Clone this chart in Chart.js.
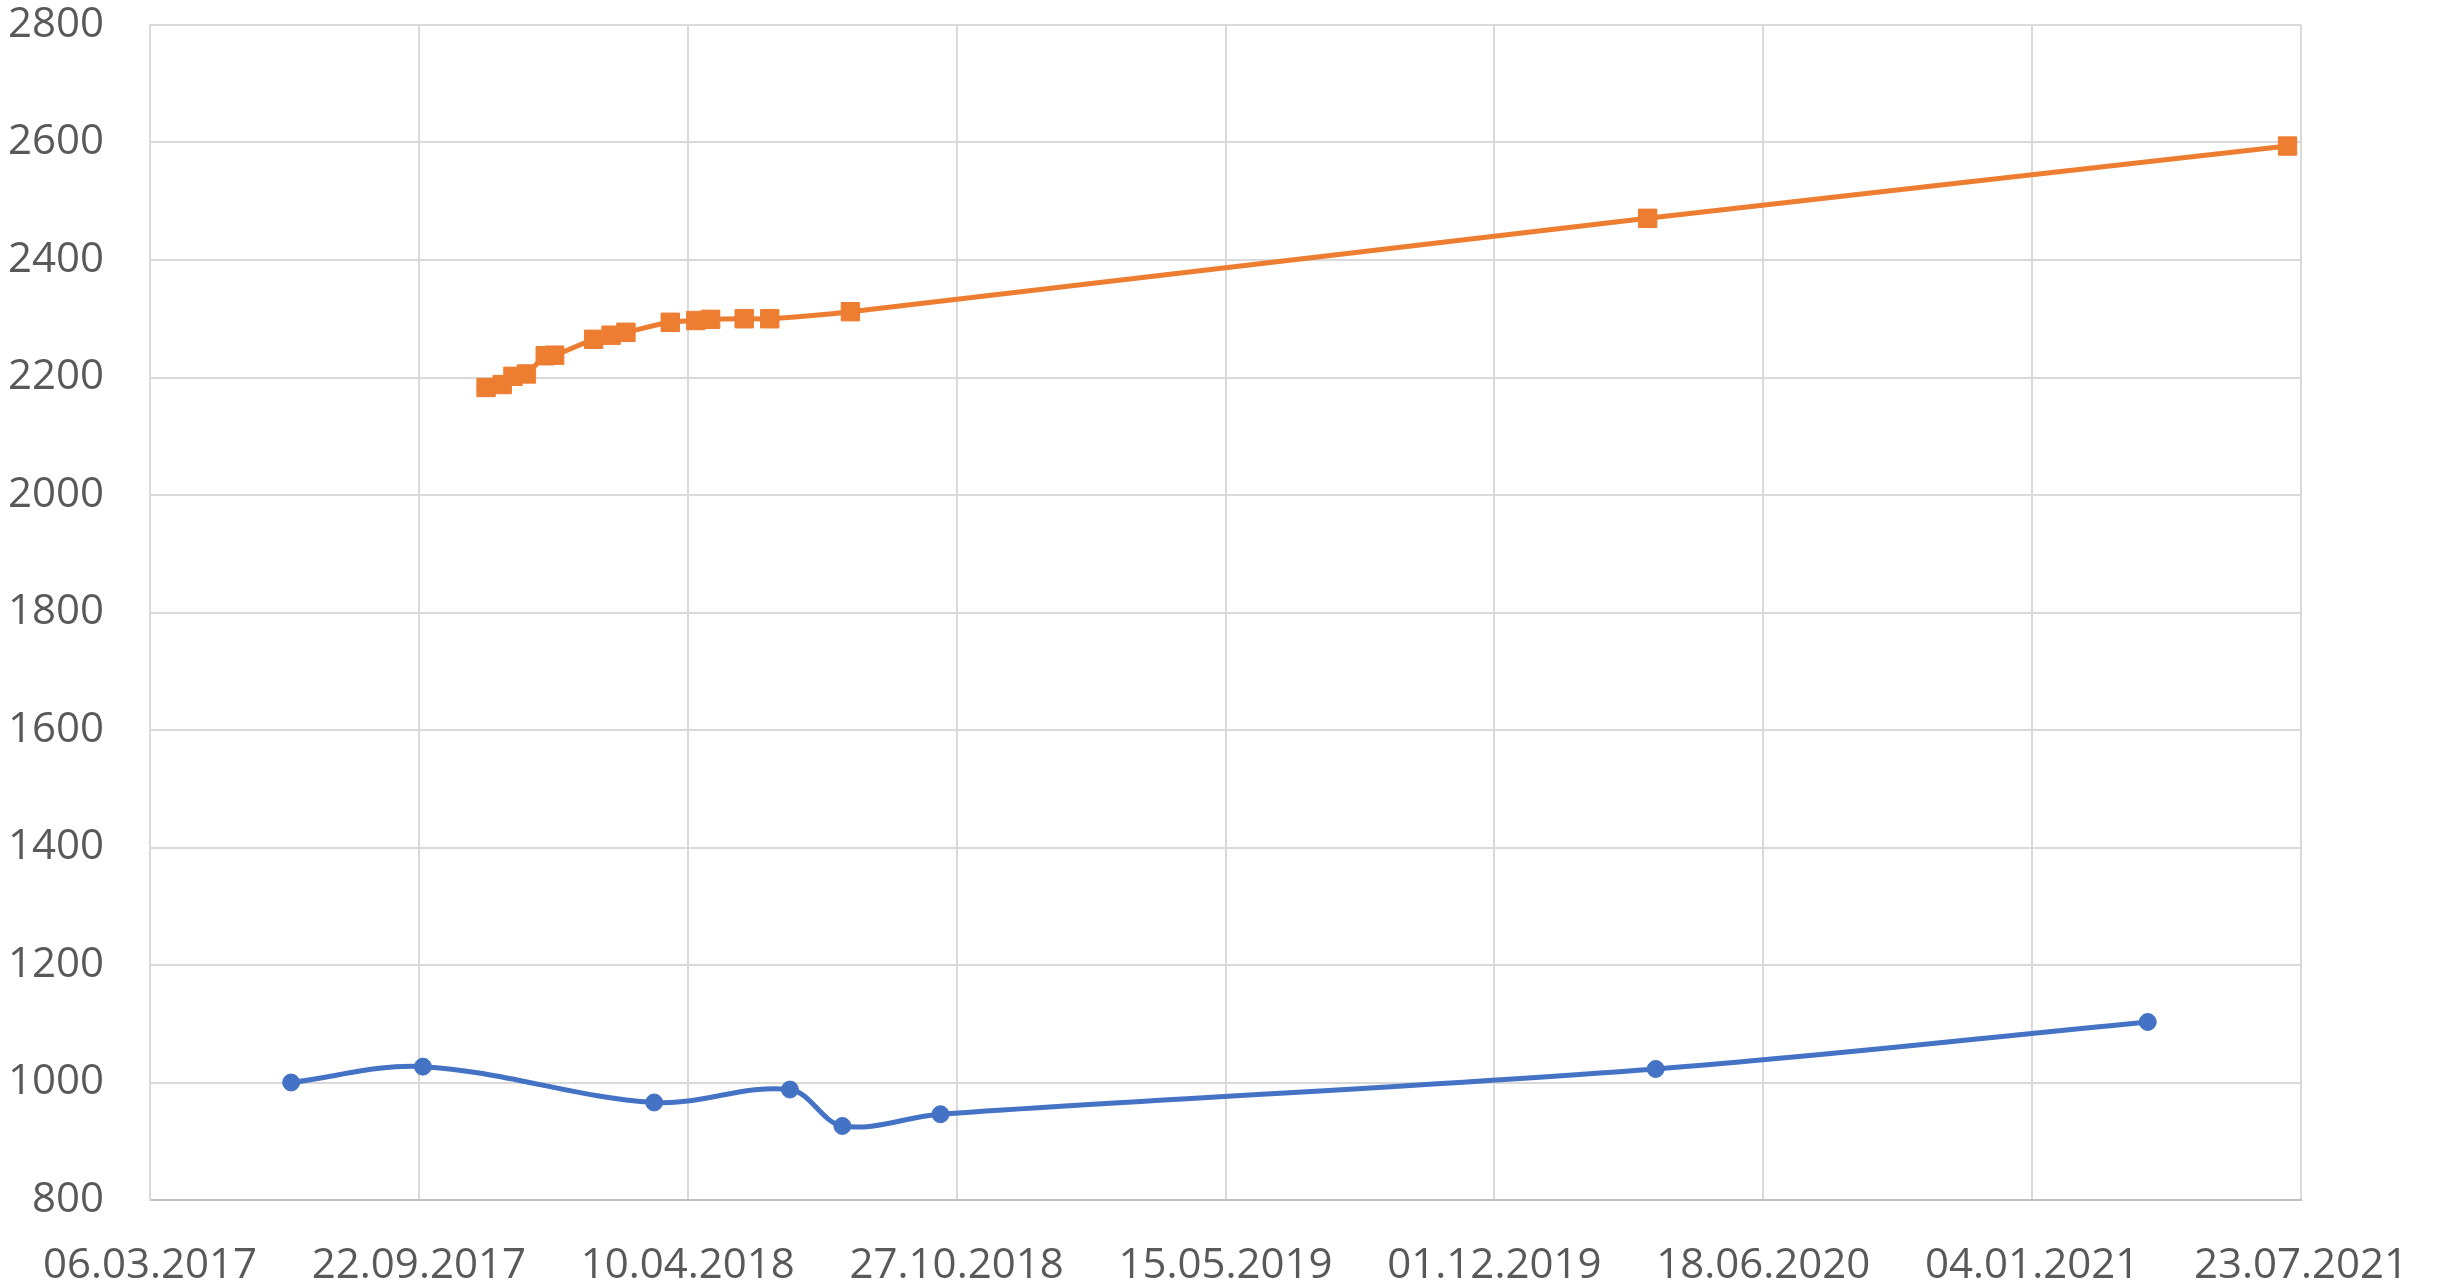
<!DOCTYPE html>
<html>
<head>
<meta charset="utf-8">
<script src="https://cdn.jsdelivr.net/npm/chart.js@4.4.0/dist/chart.umd.min.js"></script>
<style>
  html, body { margin: 0; padding: 0; background: #ffffff; }
  #c { display: block; }
</style>
</head>
<body>
<canvas id="c" width="2440" height="1287"></canvas>
<script>
// ---- data ----
const blueDates = ['19.06.2017', '25.09.2017', '16.03.2018', '25.06.2018', '03.08.2018', '15.10.2018', '30.03.2020', '31.03.2021'];
const blueValues = [1000, 1027, 966, 988, 926, 946, 1023, 1103];

const orangeDates = ['11.11.2017', '23.11.2017', '01.12.2017', '11.12.2017', '25.12.2017', '01.01.2018', '30.01.2018', '12.02.2018', '23.02.2018', '28.03.2018', '16.04.2018', '27.04.2018', '22.05.2018', '10.06.2018', '09.08.2018', '24.03.2020', '13.07.2021'];
const orangeValues = [2183, 2188, 2202, 2206, 2237, 2238, 2265, 2272, 2277, 2294, 2297, 2299, 2300, 2300, 2312, 2471, 2594];

const xTickLabels = ['06.03.2017', '22.09.2017', '10.04.2018', '27.10.2018', '15.05.2019', '01.12.2019', '18.06.2020', '04.01.2021', '23.07.2021'];
const yTickLabels = [800, 1000, 1200, 1400, 1600, 1800, 2000, 2200, 2400, 2600, 2800];

// ---- helpers: dd.mm.yyyy <-> Excel serial day ----
const EPOCH = Date.UTC(1899, 11, 30);
function toSerial(s) {
  const [d, m, y] = s.split('.').map(Number);
  return Math.round((Date.UTC(y, m - 1, d) - EPOCH) / 86400000);
}
function fromSerial(n) {
  const dt = new Date(EPOCH + n * 86400000);
  const dd = String(dt.getUTCDate()).padStart(2, '0');
  const mm = String(dt.getUTCMonth() + 1).padStart(2, '0');
  return dd + '.' + mm + '.' + dt.getUTCFullYear();
}
const xTickValues = xTickLabels.map(toSerial);

const bluePts = blueDates.map((d, i) => ({ x: toSerial(d), y: blueValues[i] }));
const orangePts = orangeDates.map((d, i) => ({ x: toSerial(d), y: orangeValues[i] }));

const FONT = { family: '"Open Sans", "Liberation Sans", sans-serif', size: 42 };
const TICK_COLOR = '#595959';
const GRID = '#d9d9d9';

new Chart(document.getElementById('c'), {
  type: 'scatter',
  data: {
    datasets: [
      {
        label: 'A',
        data: bluePts,
        showLine: true,
        borderColor: '#4472C4',
        backgroundColor: '#4472C4',
        borderWidth: 5,
        tension: 0.35,
        pointStyle: 'circle',
        pointRadius: 8.5,
        pointBorderWidth: 1,
        pointBorderColor: '#4472C4',
        pointBackgroundColor: '#4472C4'
      },
      {
        label: 'B',
        data: orangePts,
        showLine: true,
        borderColor: '#ED7D31',
        backgroundColor: '#ED7D31',
        borderWidth: 5,
        tension: 0.35,
        pointStyle: 'rect',
        pointRadius: 13,
        pointBorderWidth: 1,
        pointBorderColor: '#ED7D31',
        pointBackgroundColor: '#ED7D31'
      }
    ]
  },
  options: {
    responsive: false,
    animation: false,
    layout: { padding: { top: 25, right: 139, left: 0, bottom: 0 } },
    plugins: { legend: { display: false }, tooltip: { enabled: false }, title: { display: false } },
    scales: {
      x: {
        type: 'linear',
        min: xTickValues[0],
        max: xTickValues[xTickValues.length - 1],
        afterBuildTicks: (scale) => { scale.ticks = xTickValues.map(v => ({ value: v })); },
        afterFit: (scale) => { scale.height = 87; scale.paddingLeft = 0; scale.paddingRight = 0; },
        ticks: {
          callback: (v) => fromSerial(v),
          font: FONT,
          color: TICK_COLOR,
          padding: 41,
          maxRotation: 0,
          minRotation: 0,
          autoSkip: false
        },
        grid: { color: GRID, lineWidth: 2, drawTicks: false },
        border: { color: '#bfbfbf', width: 2 }
      },
      y: {
        min: yTickLabels[0],
        max: yTickLabels[yTickLabels.length - 1],
        afterBuildTicks: (scale) => { scale.ticks = yTickLabels.map(v => ({ value: v })); },
        afterFit: (scale) => { scale.width = 150; scale.paddingTop = 0; scale.paddingBottom = 0; },
        ticks: {
          callback: (v) => String(v),
          font: FONT,
          color: TICK_COLOR,
          padding: 46
        },
        grid: { color: GRID, lineWidth: 2, drawTicks: false },
        border: { color: GRID, width: 2 }
      }
    }
  }
});
</script>
</body>
</html>
